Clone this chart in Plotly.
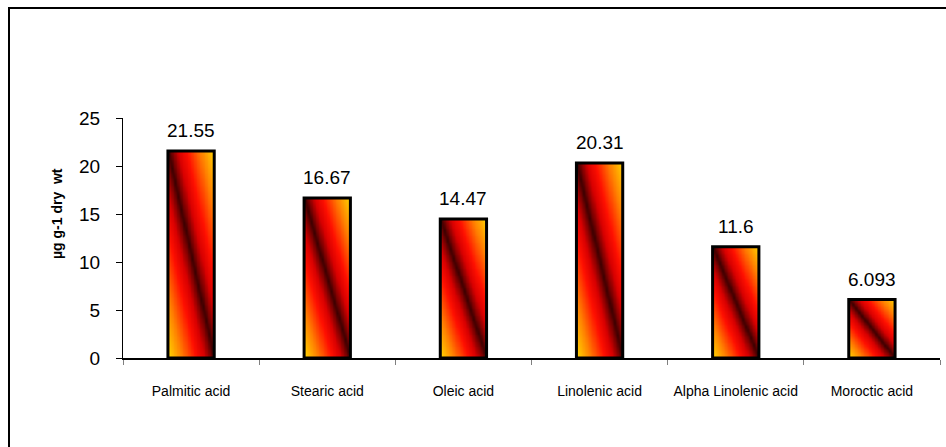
import numpy as np
import plotly.graph_objects as go

categories = ["Palmitic acid", "Stearic acid", "Oleic acid", "Linolenic acid",
              "Alpha Linolenic acid", "Moroctic acid"]
values = [21.55, 16.67, 14.47, 20.31, 11.6, 6.093]
value_labels = ["21.55", "16.67", "14.47", "20.31", "11.6", "6.093"]
y_ticks = [0, 5, 10, 15, 20, 25]

BAR_W = 0.34
W, H = 946, 447
L, R, T, B = 123, 6, 118, 89
pw, ph = W - L - R, H - T - B

colorscale = [
    [0.0, "#3a0000"],
    [0.08, "#7a0000"],
    [0.22, "#d80000"],
    [0.4, "#ff1000"],
    [0.7, "#ff8000"],
    [1.0, "#ffd800"],
]

fig = go.Figure()
xpos = list(range(len(categories)))
nx, ny = 30, 80
for i, v in zip(xpos, values):
    xe = np.linspace(i - BAR_W / 2, i + BAR_W / 2, nx + 1)
    ye = np.linspace(0, v, ny + 1)
    uc = (np.arange(nx) + 0.5) / nx
    vc = (np.arange(ny) + 0.5) / ny
    U, V = np.meshgrid(uc, vc)
    Z = np.abs(U + V - 1.0)
    fig.add_trace(go.Heatmap(x=xe, y=ye, z=Z, colorscale=colorscale, zmin=0, zmax=1,
                             showscale=False, zsmooth="best", hoverinfo="skip"))

fig.add_trace(go.Bar(x=xpos, y=values, width=BAR_W,
                     marker=dict(color="rgba(0,0,0,0)", line=dict(color="black", width=3)),
                     hoverinfo="skip"))

FONT = "Arial, Liberation Sans"
for i, v, t in zip(xpos, values, value_labels):
    fig.add_annotation(x=i, y=v, text=t, showarrow=False, yanchor="bottom", yshift=8,
                       font=dict(family=FONT, size=19, color="black"))

def px_to_paper_x(p):
    return (p - L) / pw

def px_to_paper_y(p):
    return (H - B - p) / ph

fig.add_shape(type="rect", xref="paper", yref="paper",
              x0=px_to_paper_x(9), x1=px_to_paper_x(980),
              y0=px_to_paper_y(480), y1=px_to_paper_y(8),
              line=dict(color="black", width=2), fillcolor="rgba(0,0,0,0)", layer="above")

fig.add_annotation(xref="paper", yref="paper", x=px_to_paper_x(57), y=px_to_paper_y(214),
                   text="<b>µg g-1 dry  wt</b>", textangle=-90, showarrow=False,
                   xanchor="center", yanchor="middle",
                   font=dict(family=FONT, size=14, color="black"))

fig.update_layout(
    width=W, height=H,
    margin=dict(l=L, r=R, t=T, b=B, pad=0),
    paper_bgcolor="white", plot_bgcolor="white",
    showlegend=False,
    font=dict(family=FONT, color="black"),
)
fig.update_xaxes(
    range=[-0.5, len(categories) - 0.5],
    tickvals=xpos, ticktext=categories, ticks="",
    tickfont=dict(size=14, family=FONT, color="black"),
    ticklabelstandoff=19,
    showline=True, linecolor="black", linewidth=1.5,
    showgrid=False, zeroline=False,
    minor=dict(tickvals=[k - 0.5 for k in range(len(categories) + 1)], ticks="outside",
               ticklen=5, tickcolor="#808080", tickwidth=1, showgrid=False),
)
fig.update_yaxes(
    range=[0, 25], tickvals=y_ticks, ticks="outside", ticklen=6, tickcolor="black",
    tickfont=dict(size=19, family=FONT, color="black"),
    ticklabelstandoff=12,
    showline=True, linecolor="black", linewidth=1,
    showgrid=False, zeroline=False,
)

fig.write_html("out.html")
